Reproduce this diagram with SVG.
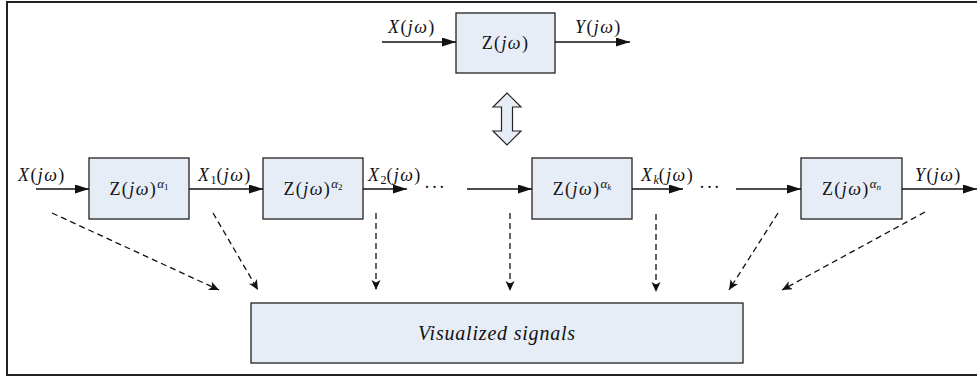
<svg xmlns="http://www.w3.org/2000/svg" width="977" height="380" viewBox="0 0 977 380">
<defs>
<style>
.box{fill:#e6edf7;stroke:#222;stroke-width:1.3}
.ln{stroke:#111;stroke-width:1.5;fill:none}
.dl{stroke:#111;stroke-width:1.3;fill:none;stroke-dasharray:6,4}
text{font-family:"Liberation Serif","Times New Roman",serif;fill:#111}
.lb{font-size:18px;letter-spacing:1.4px}
.it{font-style:italic}
.sup{font-size:13px;font-style:italic;letter-spacing:0}
.sub{font-size:9px;letter-spacing:0}
.sb{font-size:12px;letter-spacing:0}
</style>
<marker id="ah" markerUnits="userSpaceOnUse" markerWidth="16" markerHeight="10" refX="14" refY="4.5" orient="auto">
<path d="M0,0 L14,4.5 L0,9 z" fill="#111"/>
</marker>
<marker id="dh" markerUnits="userSpaceOnUse" markerWidth="12" markerHeight="10" refX="10" refY="4.5" orient="auto">
<path d="M0,0 L10,4.5 L0,9 L2.5,4.5 z" fill="#111"/>
</marker>
</defs>
<rect width="977" height="380" fill="#fff"/>
<path d="M977,2 H7 V375 H977" fill="none" stroke="#222" stroke-width="2"/>

<g id="top-system">
<rect class="box" x="456" y="13" width="99" height="60"/>
<text class="lb" x="505.5" y="49" text-anchor="middle">Z(<tspan class="it">jω</tspan>)</text>
</g>
<g id="equivalence-arrow">
<path d="M507,93 L521,107 L512.5,107 L512.5,131 L521,131 L507,145 L493,131 L501.5,131 L501.5,107 L493,107 z" fill="#e6edf7" stroke="#222" stroke-width="1.2"/>
</g>

<g id="block-1">
<rect class="box" x="89" y="158" width="100" height="61"/>
<text class="lb" x="139" y="195" text-anchor="middle">Z(<tspan class="it">jω</tspan>)<tspan class="sup" dy="-7">α</tspan><tspan class="sub" dy="2">1</tspan></text>
</g>
<g id="block-2">
<rect class="box" x="263" y="158" width="100" height="61"/>
<text class="lb" x="313" y="195" text-anchor="middle">Z(<tspan class="it">jω</tspan>)<tspan class="sup" dy="-7">α</tspan><tspan class="sub" dy="2">2</tspan></text>
</g>
<g id="block-k">
<rect class="box" x="532" y="158" width="100" height="61"/>
<text class="lb" x="582" y="195" text-anchor="middle">Z(<tspan class="it">jω</tspan>)<tspan class="sup" dy="-7">α</tspan><tspan class="sub it" dy="2">k</tspan></text>
</g>
<g id="block-n">
<rect class="box" x="801" y="158" width="101" height="61"/>
<text class="lb" x="851.5" y="195" text-anchor="middle">Z(<tspan class="it">jω</tspan>)<tspan class="sup" dy="-7">α</tspan><tspan class="sub it" dy="2">n</tspan></text>
</g>
<g id="visualized-signals">
<rect class="box" x="251" y="303" width="492" height="60"/>
<text x="497" y="340" text-anchor="middle" font-size="20" letter-spacing="0.8" class="it">Visualized signals</text>
</g>

<g id="connectors">
<line class="ln" x1="382" y1="42" x2="456" y2="42" marker-end="url(#ah)"/>
<line class="ln" x1="555" y1="42" x2="630" y2="42" marker-end="url(#ah)"/>
<line class="ln" x1="36" y1="189" x2="89" y2="189" marker-end="url(#ah)"/>
<line class="ln" x1="189" y1="189" x2="263" y2="189" marker-end="url(#ah)"/>
<line class="ln" x1="363" y1="189" x2="407" y2="189" marker-end="url(#ah)"/>
<line class="ln" x1="467" y1="189" x2="532" y2="189" marker-end="url(#ah)"/>
<line class="ln" x1="632" y1="189" x2="683" y2="189" marker-end="url(#ah)"/>
<line class="ln" x1="736" y1="189" x2="801" y2="189" marker-end="url(#ah)"/>
<line class="ln" x1="902" y1="189" x2="977" y2="189" marker-end="url(#ah)"/>

<line class="dl" x1="52" y1="213" x2="219" y2="290" marker-end="url(#dh)"/>
<line class="dl" x1="213" y1="213" x2="258" y2="290" marker-end="url(#dh)"/>
<line class="dl" x1="376" y1="213" x2="376" y2="290" marker-end="url(#dh)"/>
<line class="dl" x1="510" y1="213" x2="510" y2="291" marker-end="url(#dh)"/>
<line class="dl" x1="656" y1="214" x2="656" y2="292" marker-end="url(#dh)"/>
<line class="dl" x1="778" y1="213" x2="729" y2="290" marker-end="url(#dh)"/>
<line class="dl" x1="925" y1="212" x2="782" y2="290" marker-end="url(#dh)"/>
</g>

<g id="labels">
<text class="lb" x="388" y="33"><tspan class="it">X</tspan>(<tspan class="it">jω</tspan>)</text>
<text class="lb" x="575" y="33"><tspan class="it">Y</tspan>(<tspan class="it">jω</tspan>)</text>
<text class="lb" x="18" y="181"><tspan class="it">X</tspan>(<tspan class="it">jω</tspan>)</text>
<text class="lb" x="198" y="181"><tspan class="it">X</tspan><tspan class="sb" dy="3">1</tspan><tspan dy="-3">(</tspan><tspan class="it">jω</tspan>)</text>
<text class="lb" x="368" y="181"><tspan class="it">X</tspan><tspan class="sb" dy="3">2</tspan><tspan dy="-3">(</tspan><tspan class="it">jω</tspan>)</text>
<text class="lb" x="641" y="181"><tspan class="it">X</tspan><tspan class="sb it" dy="3">k</tspan><tspan dy="-3">(</tspan><tspan class="it">jω</tspan>)</text>
<text class="lb" x="915" y="181"><tspan class="it">Y</tspan>(<tspan class="it">jω</tspan>)</text>
<text class="lb" x="424" y="193">···</text>
<text class="lb" x="699" y="193">···</text>
</g>
</svg>
